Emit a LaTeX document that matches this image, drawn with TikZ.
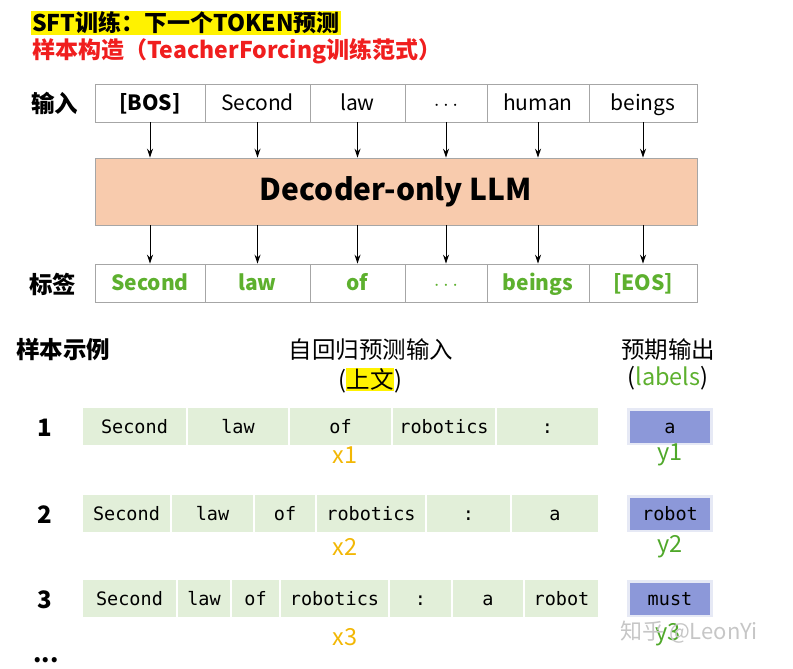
\documentclass[tikz,border=0pt]{standalone}
\usepackage{fontspec}
\setmainfont{Noto Sans CJK SC}
\setmonofont{DejaVu Sans Mono}
\usetikzlibrary{arrows.meta}
\definecolor{lgreen}{HTML}{E2EFD9}
\definecolor{peach}{HTML}{F8CBAD}
\definecolor{tgreen}{HTML}{5DB02E}
\definecolor{xorange}{HTML}{F2B705}
\definecolor{ygreen}{HTML}{4FA82A}
\definecolor{tred}{HTML}{F01E1E}
\definecolor{oblue}{HTML}{8C98D9}
\definecolor{oframe}{HTML}{E6E9F5}
\tikzset{
  f22/.style={font=\fontsize{22}{26}\selectfont},
  f23/.style={font=\fontsize{23.5}{27}\selectfont},
  tok/.style={draw=gray!70, line width=0.6pt, minimum height=38pt, inner sep=0pt, text height=15.5pt, text depth=0pt, font=\fontsize{21}{25}\selectfont},
  lab/.style={tok, text=tgreen},
  cellbox/.style={fill=lgreen, minimum height=37pt, inner sep=0pt, text height=13.5pt, text depth=0pt, font=\ttfamily\fontsize{18.5}{21}\selectfont},
  outframe/.style={fill=oframe, minimum width=86pt, minimum height=37pt, inner sep=0pt},
  outbox/.style={fill=oblue, minimum width=80pt, minimum height=32pt, inner sep=0pt, text height=13.5pt, text depth=0pt, font=\ttfamily\fontsize{18.5}{21}\selectfont},
  arr/.style={-{Stealth[length=9pt,width=6pt]}, line width=1pt},
  num/.style={font=\bfseries\fontsize{24}{28}\selectfont},
}
\begin{document}
\begin{tikzpicture}[x=1pt,y=-1pt]
\useasboundingbox (0,0) rectangle (793,669);
% titles
\node[anchor=west, fill=yellow, inner sep=1pt, font=\fontsize{23}{27}\selectfont] (t1) at (31,23) {\bfseries SFT训练：下一个TOKEN预测};
\node[anchor=west, inner sep=1pt, font=\fontsize{23}{27}\selectfont, text=tred] (t2) at (31,51) {\bfseries 样本构造（TeacherForcing训练范式）};
% input row
\node[anchor=west, f23, inner sep=0pt] (inlab) at (31,103) {\bfseries 输入};
\node[tok, minimum width=110pt] (i1) at (150,103) {\bfseries [BOS]};
\node[tok, minimum width=105pt] (i2) at (257.5,103) {Second};
\node[tok, minimum width=95pt] (i3) at (357.5,103) {law};
\node[tok, minimum width=82pt] (i4) at (446,103) {$\cdots$};
\node[tok, minimum width=102pt] (i5) at (538,103) {human};
\node[tok, minimum width=108pt] (i6) at (643,103) {beings};
% LLM
\node[draw=gray!70, line width=0.6pt, fill=peach, minimum width=602pt, minimum height=67pt, inner sep=0pt, font=\bfseries\fontsize{30}{34}\selectfont] (llm) at (396,191.5) {Decoder-only LLM};
% label row
\node[anchor=west, f23, inner sep=0pt] (lablab) at (29,284) {\bfseries 标签};
\node[lab, minimum width=110pt] (l1) at (150,283) {\bfseries Second};
\node[lab, minimum width=105pt] (l2) at (257.5,283) {\bfseries law};
\node[lab, minimum width=95pt] (l3) at (357.5,283) {\bfseries of};
\node[lab, minimum width=82pt] (l4) at (446,283) {\bfseries $\cdots$};
\node[lab, minimum width=102pt] (l5) at (538,283) {\bfseries beings};
\node[lab, minimum width=108pt] (l6) at (643,283) {\bfseries [EOS]};
\foreach \i in {1,...,6}{
  \draw[arr] (i\i.south) -- (i\i.south |- llm.north);
  \draw[arr] (llm.south -| l\i.north) -- (l\i.north);
}
% section headers
\node[anchor=west, f23, inner sep=0pt] (h1) at (16,350) {\bfseries 样本示例};
\node[f23, inner sep=0pt] (h2) at (371,350) {自回归预测输入};
\node[f23, inner sep=0pt] (h2b) at (370,381) {(\setlength{\fboxsep}{0.5pt}\colorbox{yellow}{上文})};
\node[f23, inner sep=0pt] (h3) at (668,350) {预期输出};
\node[f23, inner sep=0pt] (h3b) at (668,378) {(\textcolor{tgreen}{labels})};
% row 1
\node[num] (n1) at (45,428) {1};
\node[cellbox, minimum width=103pt] (a1) at (134.5,426.5) {Second};
\node[cellbox, minimum width=100pt] (a2) at (238,426.5) {law};
\node[cellbox, minimum width=101pt] (a3) at (340.5,426.5) {of};
\node[cellbox, minimum width=102pt] (a4) at (444,426.5) {robotics};
\node[cellbox, minimum width=101pt] (a5) at (547.5,426.5) {:};
\node[outframe] (of1) at (670,426.5) {};
\node[outbox] (o1) at (670,426.5) {a};
\node[f23, text=xorange] (x1) at (345,455) {x1};
\node[f23, text=ygreen] (y1) at (670,455) {y1};
% row 2
\node[num] (n2) at (45,515) {2};
\node[cellbox, minimum width=87pt] (b1) at (126.5,513.5) {Second};
\node[cellbox, minimum width=81pt] (b2) at (212.5,513.5) {law};
\node[cellbox, minimum width=60pt] (b3) at (285,513.5) {of};
\node[cellbox, minimum width=108pt] (b4) at (371,513.5) {robotics};
\node[cellbox, minimum width=83pt] (b5) at (468.5,513.5) {:};
\node[cellbox, minimum width=86pt] (b6) at (555,513.5) {a};
\node[outframe] (of2) at (670,513.5) {};
\node[outbox] (o2) at (670,513.5) {robot};
\node[f23, text=xorange] (x2) at (345,547) {x2};
\node[f23, text=ygreen] (y2) at (670,547) {y2};
% row 3
\node[num] (n3) at (45,600) {3};
\node[cellbox, minimum width=93pt] (c1) at (129.5,598.5) {Second};
\node[cellbox, minimum width=52pt] (c2) at (204,598.5) {law};
\node[cellbox, minimum width=47pt] (c3) at (255.5,598.5) {of};
\node[cellbox, minimum width=107pt] (c4) at (334.5,598.5) {robotics};
\node[cellbox, minimum width=61pt] (c5) at (420.5,598.5) {:};
\node[cellbox, minimum width=70pt] (c6) at (488,598.5) {a};
\node[cellbox, minimum width=73pt] (c7) at (561.5,598.5) {robot};
\node[outframe] (of3) at (670,598.5) {};
\node[outbox] (o3) at (670,598.5) {must};
\node[f23, text=xorange] (x3) at (345,637) {x3};
\node[f23, text=ygreen] (y3) at (668,635) {y3};
\node[f22, text=gray!45, anchor=west, inner sep=0pt] (wm) at (620,632) {知乎 @LeonYi};
\node[num, anchor=west, inner sep=0pt] (dots) at (33,660) {...};
\end{tikzpicture}
\end{document}
